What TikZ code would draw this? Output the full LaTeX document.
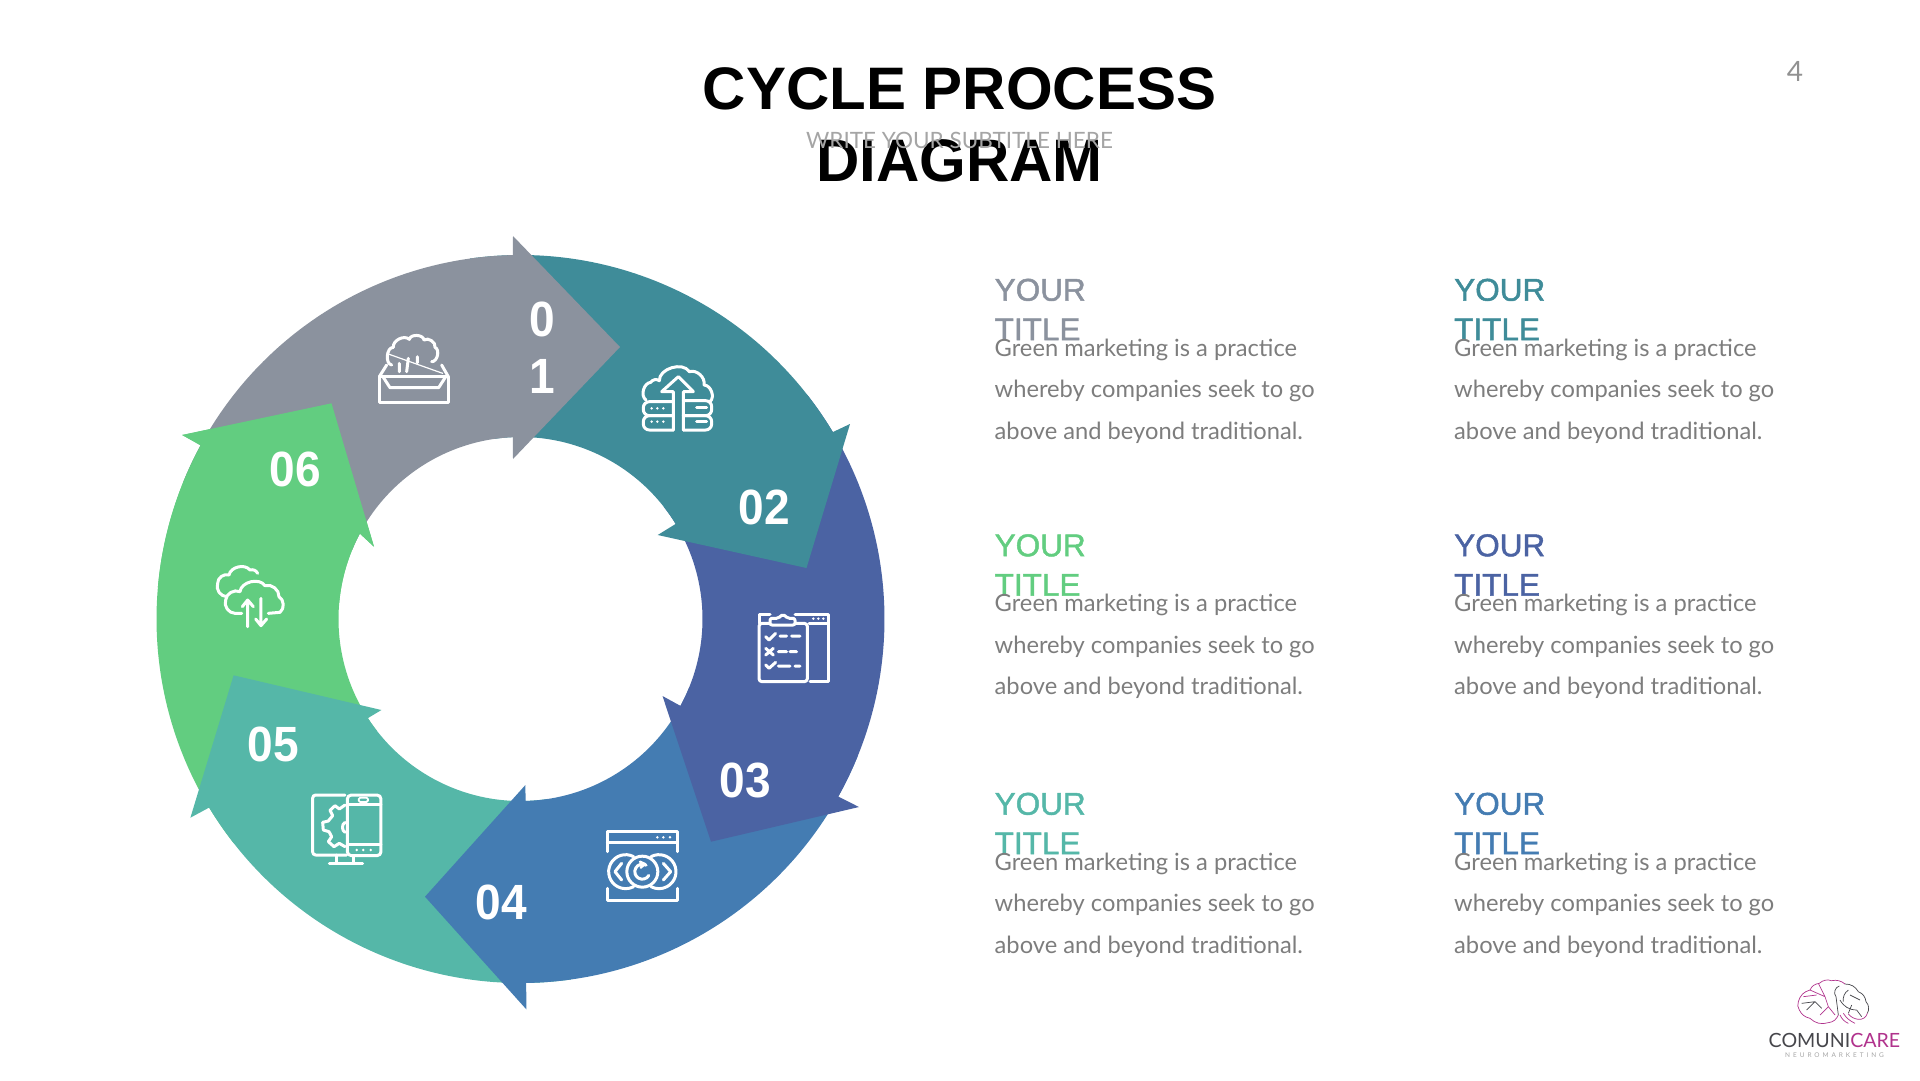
\documentclass[tikz,border=0pt]{standalone}
\usepackage{fontspec}
\setmainfont{Lato}
\newfontfamily\arialf{Liberation Sans}
\newfontfamily\numf[FakeStretch=0.93]{Liberation Sans Bold}
\newfontfamily\ttlf[FakeBold=1.5]{Liberation Sans}
\usetikzlibrary{calc}
\definecolor{cgray}{RGB}{139,146,158}
\definecolor{cteal}{RGB}{63,140,153}
\definecolor{cblue}{RGB}{75,99,163}
\definecolor{csky}{RGB}{68,124,178}
\definecolor{cmint}{RGB}{85,183,168}
\definecolor{cgreen}{RGB}{98,205,128}
\definecolor{txtg}{RGB}{125,125,125}
\definecolor{subg}{RGB}{165,165,165}
\definecolor{logop}{RGB}{176,50,140}
\definecolor{logod}{RGB}{70,70,75}
\newcommand{\ringarrow}[8]{%
  \fill[#1] (ctr) ++(#2:364pt) arc[start angle=#2,end angle=#3,radius=364pt]
    -- #4 -- #5 -- #6 -- ($(ctr)+(#7:182pt)$)
    arc[start angle=#7,end angle=#8,radius=182pt] -- cycle;}
\newcommand{\infoblock}[4]{%
  \node[ttl,text=#3] (t#4a) at (#1,#2) {YOUR};
  \node[ttl,text=#3] (t#4b) at (#1,#2+39.5) {TITLE};
  \node[bodytxt] (t#4c) at (#1,#2+55.5) {Green marketing is a practice};
  \node[bodytxt] (t#4d) at (#1,#2+97) {whereby companies seek to go};
  \node[bodytxt] (t#4e) at (#1,#2+138.5) {above and beyond traditional.};}
\tikzset{
  x=1pt,y=-1pt,
  ttl/.style={anchor=base west,inner sep=0pt,font=\ttlf\fontsize{31.5}{31.5}\selectfont},
  bodytxt/.style={anchor=base west,inner sep=0pt,text=txtg,font=\fontsize{23.7}{23.7}\selectfont},
  num/.style={inner sep=0pt,text=white,font=\numf\fontsize{49.5}{49.5}\selectfont},
  maintitle/.style={anchor=base,inner sep=0pt,text=black,font=\arialf\bfseries\fontsize{60}{60}\selectfont},
  ico/.style={draw=white,line width=3pt,line join=round,line cap=round,fill=none},
  icot/.style={draw=white,line width=1.2pt,line cap=round},
  zoomed/.style={shift={#1},x=0.3333pt,y=-0.3333pt},
  bm/.style={bend left=55},
  lp/.style={draw=logop,line width=.7pt,line join=round,fill=none},
  ld/.style={draw=logod,line width=.7pt,line join=round,fill=none},
}
\begin{document}
\begin{tikzpicture}
\useasboundingbox (0,0) rectangle (1920,1080);
\coordinate (ctr) at (520.5,619);
% ring, tails lying under the preceding arrow
\ringarrow{cgreen}{218}{151.5}{(182.2,435)}{(331.5,403.3)}{(374,546.7)}{152}{218}
\ringarrow{cmint}{-82}{-148.8}{(190.4,817.7)}{(233.6,675.3)}{(381.4,710)}{-147}{-82}
\ringarrow{csky}{-22}{-89.1}{(526.3,1009.3)}{(425,896.7)}{(525.4,785)}{-88.4}{-22}
\ringarrow{cblue}{38}{-29.2}{(859,807)}{(711,841.7)}{(662.5,696)}{-28.5}{38}
\ringarrow{cteal}{98}{30.9}{(850,424)}{(806.5,568)}{(657.7,535)}{31.5}{98}
\ringarrow{cgray}{158}{91.2}{(513,236)}{(620,347)}{(513,459)}{92.4}{158}
\ringarrow{cgreen}{175}{151.5}{(182.2,435)}{(331.5,403.3)}{(374,546.7)}{152}{175}
% numbers
\node[num] (n01a) at (542,319) {0};
\node[num] (n01b) at (542,376.5) {1};
\node[num] (n02) at (764.3,507.5) {02};
\node[num] (n03) at (745,780.5) {03};
\node[num] (n04) at (501.5,902) {04};
\node[num] (n05) at (273.3,744.5) {05};
\node[num] (n06) at (295.5,469.5) {06};
% icon 1: tree in a box
\begin{scope}[zoomed={(360,320)}]
 \draw[ico] (58,170) rectangle (265,248);
 \draw[ico] (58,170) -- (80,135) (265,170) -- (245,135);
 \draw[ico] (70,172) -- (90,203) -- (236,203) -- (256,172);
 \draw[ico] (95,135) to[bend left=85] (100,82) to[bend left=70] (148,58) to[bend left=80] (192,60) to[bend left=70] (225,82) to[bend left=80] (215,125);
 \draw[icot] (85,102) -- (248,160);
 \draw[ico] (118,130) -- (118,155) (145,115) -- (140,155) (172,110) -- (172,128);
\end{scope}
% icon 2: cloud with up arrow and servers
\begin{scope}[zoomed={(630,350)}]
 \draw[ico] (48,150) to[bend left=70] (62,97) to[bend left=45] (88,92) to[bend left=75] (178,65) to[bend left=60] (222,105) to[bend left=70] (240,155);
 \draw[ico] (130,240) -- (130,125) -- (95,125) -- (145,80) -- (190,125) -- (160,125) -- (160,240);
 \draw[ico,rounded corners=6pt] (130,155) -- (40,155) -- (40,197) -- (130,197);
 \draw[ico,rounded corners=6pt] (130,197) -- (40,197) -- (40,240) -- (130,240);
 \draw[ico,rounded corners=6pt] (160,152) -- (245,152) -- (245,197) -- (160,197);
 \draw[ico,rounded corners=6pt] (160,197) -- (245,197) -- (245,240) -- (160,240);
 \foreach \px/\py in {65/175,82/175,100/175,65/215,82/215,100/215}{\fill[white] (\px,\py) circle[radius=1.4pt];}
 \draw[ico] (200,172) -- (230,172) (200,213) -- (230,213);
\end{scope}
% icon 3: clipboard and window
\begin{scope}[zoomed={(745,600)}]
 \draw[ico,rounded corners=3pt] (75,70) -- (42,70) -- (42,245) -- (187,245) -- (187,70) -- (150,70);
 \draw[ico,rounded corners=2pt] (75,75) -- (75,55) -- (100,55) -- (114,42) -- (128,55) -- (150,55) -- (150,75) -- cycle;
 \draw[ico] (42,70) -- (42,42) -- (75,42) (150,42) -- (250,42) -- (250,245) -- (195,245);
 \draw[ico] (192,70) -- (250,70);
 \foreach \px in {205,220,235}{\fill[white] (\px,56) circle[radius=1.4pt];}
 \draw[ico] (62,110) -- (72,120) -- (92,100) (105,108) -- (125,108) (140,108) -- (165,108);
 \draw[ico] (62,145) -- (85,165) (85,145) -- (62,165) (100,155) -- (125,155) (135,155) -- (155,155);
 \draw[ico] (62,195) -- (72,205) -- (92,187) (100,198) -- (135,198) (150,198) -- (165,198);
\end{scope}
% icon 4: window with eye
\begin{scope}[zoomed={(600,820)}]
 \draw[ico] (22,95) -- (22,35) -- (232,35) -- (232,95) (22,68) -- (232,68);
 \draw[ico] (22,205) -- (22,240) -- (232,240) -- (232,205);
 \foreach \px in {172,190,210}{\fill[white] (\px,52) circle[radius=1.4pt];}
 \draw[ico] (127,155) circle[radius=15.5pt];
 \draw[ico] ($(127,155)+(60:7.5pt)$) arc[start angle=60,end angle=330,radius=7.5pt];
 \draw[ico,line width=2.4pt] (120,125) -- (135,132) -- (122,143);
 \draw[ico] ($(77,155)+(62:17pt)$) arc[start angle=62,end angle=298,radius=17pt];
 \draw[ico] ($(177,155)+(118:17pt)$) arc[start angle=118,end angle=-118,radius=17pt];
 \draw[ico] (65,130) -- (45,155) -- (65,180) (190,130) -- (212,155) -- (190,180);
\end{scope}
% icon 5: monitor, gear and phone
\begin{scope}[zoomed={(300,785)}]
 \draw[ico,rounded corners=3pt] (135,30) -- (38,30) -- (38,210) -- (140,210);
 \draw[ico] (110,210) -- (110,235) (160,212) -- (160,235) (88,235) -- (188,235);
 \draw[ico,rounded corners=4pt] (142,30) rectangle (243,212);
 \draw[ico] (142,58) -- (243,58) (142,178) -- (243,178);
 \draw[ico,line width=1.8pt,rounded corners=1.5pt] (176,38) rectangle (204,51);
 \foreach \px in {170,190,212}{\fill[white] (\px,195) circle[radius=1.4pt];}
 \draw[ico] (135,60) -- (118,72) -- (105,62) -- (90,76) -- (98,92) -- (85,108) -- (68,112) -- (70,135) -- (87,140) -- (95,155) -- (85,170) -- (102,185) -- (118,175) -- (135,185);
 \draw[ico] (135,112) to[bend right=60] (135,142);
\end{scope}
% icon 6: clouds with arrows
\begin{scope}[zoomed={(205,555)}]
 \draw[ico] (110,175) -- (90,175) to[bm] (62,135) to[bm] (105,110) to[bend left=70] (180,92) to[bm] (222,125) to[bm] (225,172) -- (190,175);
 \draw[ico] (65,125) to[bm] (38,85) to[bm] (72,60) to[bend left=65] (135,45) to[bend left=40] (158,55);
 \draw[ico] (128,215) -- (128,135) (112,155) -- (128,135) -- (145,155);
 \draw[ico] (168,130) -- (168,212) (152,192) -- (168,212) -- (185,192);
\end{scope}
% headings
\node[maintitle] (title1) at (959.5,109.5) {CYCLE PROCESS};
\node[maintitle] (title2) at (959.5,181.5) {DIAGRAM};
\node[anchor=base,inner sep=0pt,text=subg,font=\fontsize{22.5}{22.5}\selectfont] (subtitle) at (959.5,148.3) {WRITE YOUR SUBTITLE HERE};
\node[inner sep=0pt,text=txtg!85,font=\fontsize{28}{28}\selectfont] (pagenum) at (1795,71) {4};
% text blocks
\infoblock{994.5}{300.7}{cgray}{A}
\infoblock{1454}{300.7}{cteal}{B}
\infoblock{994.5}{556.2}{cgreen}{C}
\infoblock{1454}{556.2}{cblue}{D}
\infoblock{994.5}{814.7}{cmint}{E}
\infoblock{1454}{814.7}{csky}{F}
% logo
\begin{scope}[zoomed={(1760,960)}]
 \draw[lp] (118,150) to[bend left=25] (115,125) to[bend left=30] (150,90) to[bend left=30] (178,70) to[bend left=30] (215,62);
 \draw[lp] (215,62) to[bend left=25] (255,72);
 \draw[ld] (255,72) to[bend left=30] (295,95) to[bend left=30] (318,125) to[bend left=35] (322,160);
 \draw[lp] (322,160) to[bend left=40] (295,178) to[bend left=20] (265,162);
 \draw[lp] (118,150) to[bend right=25] (150,175) to[bend right=30] (205,188) to[bend right=30] (235,165);
 \draw[ld] (235,165) -- (228,110) to[bend left=60] (238,78);
 \draw[ld] (240,120) to[bend right=30] (290,150) (265,90) to[bend right=30] (250,125);
 \draw[ld] (270,105) -- (300,120) (275,135) -- (265,160) (290,150) -- (305,170);
 \draw[ld] (125,130) -- (165,125) -- (185,145) (140,150) -- (165,125);
 \draw[lp] (150,90) -- (195,110) -- (205,140) (175,70) -- (195,110) (205,140) -- (180,165) (205,140) -- (225,165) (130,110) -- (170,105);
 \draw[lp] (240,165) to[bend right=20] (265,190) (250,160) to[bend right=15] (285,190);
\end{scope}
\node[anchor=base west,inner sep=0pt,font=\fontsize{19.6}{19.6}\selectfont] (logotext) at (1768.5,1047.3) {\textcolor{logod}{COMUNI}\textcolor{logop}{CARE}};
\node[anchor=base west,inner sep=0pt,text=subg,font=\fontsize{6.5}{6.5}\selectfont,
  ] (logosub) at (1785,1057) {\addfontfeature{LetterSpace=45}NEUROMARKETING};
\end{tikzpicture}
\end{document}
